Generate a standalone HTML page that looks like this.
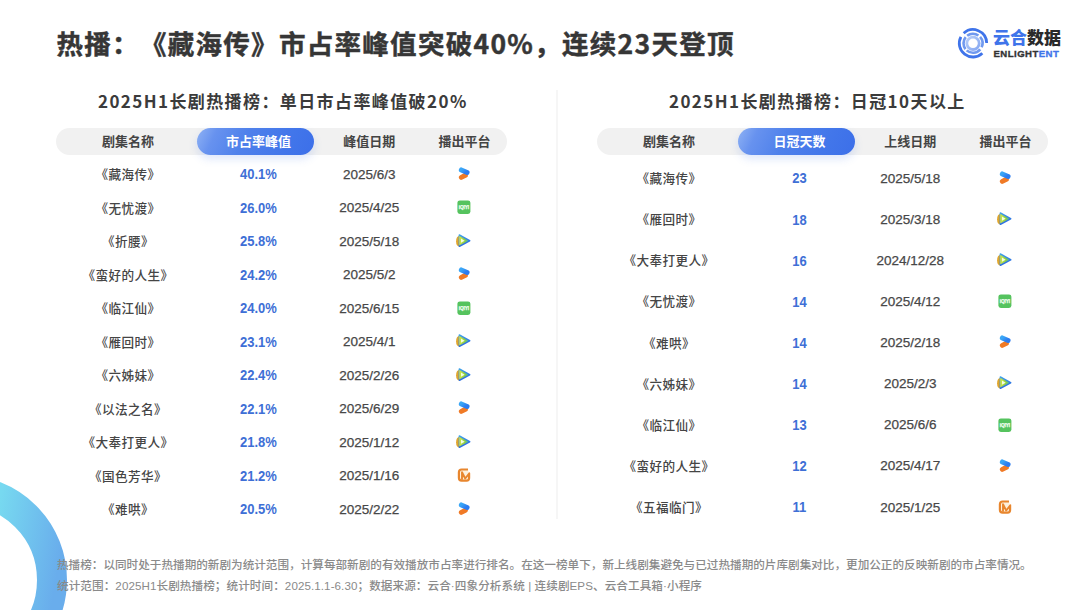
<!DOCTYPE html>
<html lang="zh-CN"><head><meta charset="utf-8"><title>热播：《藏海传》市占率峰值突破40%，连续23天登顶</title>
<style>
*{margin:0;padding:0;box-sizing:border-box}
html,body{width:1080px;height:610px;overflow:hidden;background:#fff}
body{position:relative;text-spacing-trim:space-all;font-family:"Liberation Sans","Noto Sans CJK SC",sans-serif;color:#333}
.t{position:absolute;white-space:nowrap}
#title{left:56.5px;top:22.9px;letter-spacing:1.3px;font-size:26.5px;line-height:40px;font-weight:700;color:#363636;-webkit-text-stroke:0.45px #363636;font-family:"Noto Sans CJK SC",sans-serif}
.st{position:absolute;top:87.2px;font-size:17px;letter-spacing:1.4px;line-height:28px;font-weight:700;color:#3b3b3b;white-space:nowrap;font-family:"Noto Sans CJK SC",sans-serif}
.gp{position:absolute;top:128px;width:451px;height:26.5px;border-radius:13.5px;background:#f1f1f1}
.bp{position:absolute;top:127.5px;width:117px;height:27px;border-radius:13.5px;background:linear-gradient(115deg,#8fb2f4 0%,#6792ef 16%,#4f81eb 40%,#4276ea 75%,#3c6fe9 100%);box-shadow:0 4px 8px rgba(70,120,235,0.18)}
.c{position:absolute;height:0;text-align:center;white-space:nowrap}
.c>*{}
.hd{font-size:13px;font-weight:700;color:#444;font-family:"Noto Sans CJK SC",sans-serif;line-height:0}
.hw{color:#fff}
.nm{font-size:12.6px;letter-spacing:0.4px;font-weight:500;color:#454545;font-family:"Noto Sans CJK SC",sans-serif;line-height:0}
.vl{font-size:13px;font-weight:700;color:#3e6fd6;line-height:0;transform:scaleY(1.09)}
.dt{font-size:13.5px;color:#474747;line-height:0;-webkit-text-stroke:0.25px #474747}
.icw{position:absolute;width:16px;height:16px}
.ic{display:block}
#div{position:absolute;left:556px;top:90px;width:2px;height:429px;background:#f6f6f6}
.ft{position:absolute;left:57px;font-size:11.6px;letter-spacing:0.08px;font-weight:500;color:#8a8a8a;white-space:nowrap;line-height:0;font-family:"Liberation Sans","Noto Sans CJK SC",sans-serif}
#ring{position:absolute;left:0;top:0}
</style></head><body>
<svg id="ring" width="120" height="610" viewBox="0 0 120 610"><defs><linearGradient id="rg" x1="0" y1="500" x2="68" y2="512" gradientUnits="userSpaceOnUse"><stop offset="0" stop-color="#77d9f0"/><stop offset="1" stop-color="#69adec"/></linearGradient></defs><circle cx="-38" cy="580" r="90" fill="none" stroke="url(#rg)" stroke-width="30"/></svg>
<div class="t" id="title">热播：《藏海传》市占率峰值突破40%，连续23天登顶</div>

<svg id="logoic" style="position:absolute;left:956px;top:26px" width="34" height="34" viewBox="0 0 34 34"><defs><linearGradient id="lg1" x1="0" y1="0" x2="1" y2="1"><stop offset="0" stop-color="#b8cef8"/><stop offset="1" stop-color="#86a8f2"/></linearGradient></defs><circle cx="17" cy="17.3" r="6.2" fill="none" stroke="url(#lg1)" stroke-width="2.8"/><path d="M7.66 7.28 A13.7 13.7 0 0 1 30.70 17.06" fill="none" stroke="#3f74ea" stroke-width="2.8"/><path d="M4.90 10.87 A13.7 13.7 0 0 0 26.34 27.32" fill="none" stroke="#3f74ea" stroke-width="2.8"/><path d="M9.72 11.19 A9.5 9.5 0 0 0 9.51 23.15" fill="none" stroke="#7099ef" stroke-width="2.6"/><path d="M11.15 9.81 A9.5 9.5 0 0 1 22.45 9.52" fill="none" stroke="#7099ef" stroke-width="2.6"/><path d="M24.06 10.94 A9.5 9.5 0 0 1 25.61 21.31" fill="none" stroke="#7099ef" stroke-width="2.6"/><path d="M24.28 23.41 A9.5 9.5 0 0 1 10.64 24.36" fill="none" stroke="#7099ef" stroke-width="2.6"/></svg>
<div class="t" style="left:993px;top:24px;font-size:17px;line-height:26px;font-weight:900;font-family:'Noto Sans CJK SC',sans-serif;letter-spacing:0px"><span style="color:#3f74ea">云合</span><span style="color:#2a2a2a">数据</span></div>
<div class="t" style="left:993.5px;top:47.7px;font-size:9.6px;line-height:12px;font-weight:700;font-family:'Liberation Sans',sans-serif;letter-spacing:0.45px;-webkit-text-stroke:0.35px currentColor"><span style="color:#333">ENLIGHT</span><span style="color:#3f74ea">ENT</span></div>

<div class="st" style="left:98px">2025H1长剧热播榜：单日市占率峰值破20%</div>
<div class="st" style="left:669px">2025H1长剧热播榜：日冠10天以上</div>
<div id="div"></div>
<div class="gp" style="left:56px"></div>
<div class="bp" style="left:196.5px"></div>
<div class="c hd" style="left:48.0px;top:141.2px;width:160px">剧集名称</div>
<div class="c hd hw" style="left:178.4px;top:141.2px;width:160px">市占率峰值</div>
<div class="c hd" style="left:289.2px;top:141.2px;width:160px">峰值日期</div>
<div class="c hd" style="left:384.4px;top:141.2px;width:160px">播出平台</div>
<div class="c nm" style="left:48.0px;top:174.0px;width:160px">《藏海传》</div>
<div class="c vl" style="left:178.4px;top:175.1px;width:160px">40.1%</div>
<div class="c dt" style="left:289.2px;top:174.8px;width:160px">2025/6/3</div>
<div class="icw" style="left:456.4px;top:165.9px"><svg class="ic" width="16" height="16" viewBox="0 0 16 16"><defs><linearGradient id="ykb" x1="0" y1="0" x2="1" y2="0.5"><stop offset="0" stop-color="#3aa6f6"/><stop offset="1" stop-color="#2c7cf0"/></linearGradient></defs><line x1="5.3" y1="11.4" x2="9.4" y2="9.3" stroke="#f07a26" stroke-width="4.9" stroke-linecap="round"/><line x1="5.3" y1="3.9" x2="11.1" y2="6.5" stroke="url(#ykb)" stroke-width="4.9" stroke-linecap="round"/></svg></div>
<div class="c nm" style="left:48.0px;top:207.5px;width:160px">《无忧渡》</div>
<div class="c vl" style="left:178.4px;top:208.6px;width:160px">26.0%</div>
<div class="c dt" style="left:289.2px;top:208.3px;width:160px">2025/4/25</div>
<div class="icw" style="left:456.4px;top:199.4px"><svg class="ic" width="16" height="16" viewBox="0 0 16 16"><rect x="1.4" y="1.4" width="13" height="13.6" rx="2.4" fill="#55c35e"/><text x="7.9" y="9.9" font-size="4.7" font-family="Liberation Sans, sans-serif" font-weight="700" fill="#f4fff2" stroke="#f4fff2" stroke-width="0.25" text-anchor="middle" letter-spacing="-0.1">iQIYI</text></svg></div>
<div class="c nm" style="left:48.0px;top:241.0px;width:160px">《折腰》</div>
<div class="c vl" style="left:178.4px;top:242.1px;width:160px">25.8%</div>
<div class="c dt" style="left:289.2px;top:241.8px;width:160px">2025/5/18</div>
<div class="icw" style="left:456.4px;top:232.9px"><svg class="ic" width="16" height="16" viewBox="0 0 16 16"><defs><linearGradient id="txo" x1="0" y1="0" x2="1" y2="0"><stop offset="0" stop-color="#e2a127"/><stop offset="1" stop-color="#d9b032"/></linearGradient><linearGradient id="txb" x1="0" y1="0" x2="0.3" y2="1"><stop offset="0" stop-color="#40a6ea"/><stop offset="1" stop-color="#2a68e2"/></linearGradient><linearGradient id="txg" x1="0" y1="0" x2="1" y2="0"><stop offset="0" stop-color="#d2e64a"/><stop offset="0.6" stop-color="#8fd03e"/><stop offset="1" stop-color="#4fb8a0"/></linearGradient></defs><path d="M3.8 2.7 Q0.1 3.1 0.1 8.2 Q0.1 13.3 3.8 13.7 Z" fill="url(#txo)"/><path d="M3.7 1.3 Q2.6 0.9 2.6 2.5 L2.6 12.9 Q2.6 14.5 3.8 13.9 L14 8.6 Q15.2 7.7 14 6.9 Z" fill="url(#txb)"/><path d="M3.5 3.3 L3.5 12.1 L12 7.7 Z" fill="url(#txg)" stroke="url(#txg)" stroke-width="0.5" stroke-linejoin="round"/><path d="M5 5.6 L5 9.8 L8.7 7.7 Z" fill="#f3fde2"/></svg></div>
<div class="c nm" style="left:48.0px;top:274.5px;width:160px">《蛮好的人生》</div>
<div class="c vl" style="left:178.4px;top:275.6px;width:160px">24.2%</div>
<div class="c dt" style="left:289.2px;top:275.3px;width:160px">2025/5/2</div>
<div class="icw" style="left:456.4px;top:266.4px"><svg class="ic" width="16" height="16" viewBox="0 0 16 16"><defs><linearGradient id="ykb" x1="0" y1="0" x2="1" y2="0.5"><stop offset="0" stop-color="#3aa6f6"/><stop offset="1" stop-color="#2c7cf0"/></linearGradient></defs><line x1="5.3" y1="11.4" x2="9.4" y2="9.3" stroke="#f07a26" stroke-width="4.9" stroke-linecap="round"/><line x1="5.3" y1="3.9" x2="11.1" y2="6.5" stroke="url(#ykb)" stroke-width="4.9" stroke-linecap="round"/></svg></div>
<div class="c nm" style="left:48.0px;top:308.0px;width:160px">《临江仙》</div>
<div class="c vl" style="left:178.4px;top:309.1px;width:160px">24.0%</div>
<div class="c dt" style="left:289.2px;top:308.8px;width:160px">2025/6/15</div>
<div class="icw" style="left:456.4px;top:299.9px"><svg class="ic" width="16" height="16" viewBox="0 0 16 16"><rect x="1.4" y="1.4" width="13" height="13.6" rx="2.4" fill="#55c35e"/><text x="7.9" y="9.9" font-size="4.7" font-family="Liberation Sans, sans-serif" font-weight="700" fill="#f4fff2" stroke="#f4fff2" stroke-width="0.25" text-anchor="middle" letter-spacing="-0.1">iQIYI</text></svg></div>
<div class="c nm" style="left:48.0px;top:341.5px;width:160px">《雁回时》</div>
<div class="c vl" style="left:178.4px;top:342.6px;width:160px">23.1%</div>
<div class="c dt" style="left:289.2px;top:342.3px;width:160px">2025/4/1</div>
<div class="icw" style="left:456.4px;top:333.4px"><svg class="ic" width="16" height="16" viewBox="0 0 16 16"><defs><linearGradient id="txo" x1="0" y1="0" x2="1" y2="0"><stop offset="0" stop-color="#e2a127"/><stop offset="1" stop-color="#d9b032"/></linearGradient><linearGradient id="txb" x1="0" y1="0" x2="0.3" y2="1"><stop offset="0" stop-color="#40a6ea"/><stop offset="1" stop-color="#2a68e2"/></linearGradient><linearGradient id="txg" x1="0" y1="0" x2="1" y2="0"><stop offset="0" stop-color="#d2e64a"/><stop offset="0.6" stop-color="#8fd03e"/><stop offset="1" stop-color="#4fb8a0"/></linearGradient></defs><path d="M3.8 2.7 Q0.1 3.1 0.1 8.2 Q0.1 13.3 3.8 13.7 Z" fill="url(#txo)"/><path d="M3.7 1.3 Q2.6 0.9 2.6 2.5 L2.6 12.9 Q2.6 14.5 3.8 13.9 L14 8.6 Q15.2 7.7 14 6.9 Z" fill="url(#txb)"/><path d="M3.5 3.3 L3.5 12.1 L12 7.7 Z" fill="url(#txg)" stroke="url(#txg)" stroke-width="0.5" stroke-linejoin="round"/><path d="M5 5.6 L5 9.8 L8.7 7.7 Z" fill="#f3fde2"/></svg></div>
<div class="c nm" style="left:48.0px;top:375.0px;width:160px">《六姊妹》</div>
<div class="c vl" style="left:178.4px;top:376.1px;width:160px">22.4%</div>
<div class="c dt" style="left:289.2px;top:375.8px;width:160px">2025/2/26</div>
<div class="icw" style="left:456.4px;top:366.9px"><svg class="ic" width="16" height="16" viewBox="0 0 16 16"><defs><linearGradient id="txo" x1="0" y1="0" x2="1" y2="0"><stop offset="0" stop-color="#e2a127"/><stop offset="1" stop-color="#d9b032"/></linearGradient><linearGradient id="txb" x1="0" y1="0" x2="0.3" y2="1"><stop offset="0" stop-color="#40a6ea"/><stop offset="1" stop-color="#2a68e2"/></linearGradient><linearGradient id="txg" x1="0" y1="0" x2="1" y2="0"><stop offset="0" stop-color="#d2e64a"/><stop offset="0.6" stop-color="#8fd03e"/><stop offset="1" stop-color="#4fb8a0"/></linearGradient></defs><path d="M3.8 2.7 Q0.1 3.1 0.1 8.2 Q0.1 13.3 3.8 13.7 Z" fill="url(#txo)"/><path d="M3.7 1.3 Q2.6 0.9 2.6 2.5 L2.6 12.9 Q2.6 14.5 3.8 13.9 L14 8.6 Q15.2 7.7 14 6.9 Z" fill="url(#txb)"/><path d="M3.5 3.3 L3.5 12.1 L12 7.7 Z" fill="url(#txg)" stroke="url(#txg)" stroke-width="0.5" stroke-linejoin="round"/><path d="M5 5.6 L5 9.8 L8.7 7.7 Z" fill="#f3fde2"/></svg></div>
<div class="c nm" style="left:48.0px;top:408.5px;width:160px">《以法之名》</div>
<div class="c vl" style="left:178.4px;top:409.6px;width:160px">22.1%</div>
<div class="c dt" style="left:289.2px;top:409.3px;width:160px">2025/6/29</div>
<div class="icw" style="left:456.4px;top:400.4px"><svg class="ic" width="16" height="16" viewBox="0 0 16 16"><defs><linearGradient id="ykb" x1="0" y1="0" x2="1" y2="0.5"><stop offset="0" stop-color="#3aa6f6"/><stop offset="1" stop-color="#2c7cf0"/></linearGradient></defs><line x1="5.3" y1="11.4" x2="9.4" y2="9.3" stroke="#f07a26" stroke-width="4.9" stroke-linecap="round"/><line x1="5.3" y1="3.9" x2="11.1" y2="6.5" stroke="url(#ykb)" stroke-width="4.9" stroke-linecap="round"/></svg></div>
<div class="c nm" style="left:48.0px;top:442.0px;width:160px">《大奉打更人》</div>
<div class="c vl" style="left:178.4px;top:443.1px;width:160px">21.8%</div>
<div class="c dt" style="left:289.2px;top:442.8px;width:160px">2025/1/12</div>
<div class="icw" style="left:456.4px;top:433.9px"><svg class="ic" width="16" height="16" viewBox="0 0 16 16"><defs><linearGradient id="txo" x1="0" y1="0" x2="1" y2="0"><stop offset="0" stop-color="#e2a127"/><stop offset="1" stop-color="#d9b032"/></linearGradient><linearGradient id="txb" x1="0" y1="0" x2="0.3" y2="1"><stop offset="0" stop-color="#40a6ea"/><stop offset="1" stop-color="#2a68e2"/></linearGradient><linearGradient id="txg" x1="0" y1="0" x2="1" y2="0"><stop offset="0" stop-color="#d2e64a"/><stop offset="0.6" stop-color="#8fd03e"/><stop offset="1" stop-color="#4fb8a0"/></linearGradient></defs><path d="M3.8 2.7 Q0.1 3.1 0.1 8.2 Q0.1 13.3 3.8 13.7 Z" fill="url(#txo)"/><path d="M3.7 1.3 Q2.6 0.9 2.6 2.5 L2.6 12.9 Q2.6 14.5 3.8 13.9 L14 8.6 Q15.2 7.7 14 6.9 Z" fill="url(#txb)"/><path d="M3.5 3.3 L3.5 12.1 L12 7.7 Z" fill="url(#txg)" stroke="url(#txg)" stroke-width="0.5" stroke-linejoin="round"/><path d="M5 5.6 L5 9.8 L8.7 7.7 Z" fill="#f3fde2"/></svg></div>
<div class="c nm" style="left:48.0px;top:475.5px;width:160px">《国色芳华》</div>
<div class="c vl" style="left:178.4px;top:476.6px;width:160px">21.2%</div>
<div class="c dt" style="left:289.2px;top:476.3px;width:160px">2025/1/16</div>
<div class="icw" style="left:456.4px;top:467.4px"><svg class="ic" width="16" height="16" viewBox="0 0 16 16"><path d="M12 2.5 L5.6 2.5 Q2.9 2.5 2.9 5.4 L2.9 10.8 Q2.9 13.6 5.6 13.6 L10.6 13.6 Q13.1 13.6 13.1 11 L13.1 7" fill="#fdf0dc" stroke="#e8862e" stroke-width="2.2"/><path d="M6 12 L6 5.3 L9.2 11.5 L13.3 6.3" fill="none" stroke="#e8862e" stroke-width="1.9" stroke-linejoin="round" stroke-linecap="round"/></svg></div>
<div class="c nm" style="left:48.0px;top:509.0px;width:160px">《难哄》</div>
<div class="c vl" style="left:178.4px;top:510.1px;width:160px">20.5%</div>
<div class="c dt" style="left:289.2px;top:509.8px;width:160px">2025/2/22</div>
<div class="icw" style="left:456.4px;top:500.9px"><svg class="ic" width="16" height="16" viewBox="0 0 16 16"><defs><linearGradient id="ykb" x1="0" y1="0" x2="1" y2="0.5"><stop offset="0" stop-color="#3aa6f6"/><stop offset="1" stop-color="#2c7cf0"/></linearGradient></defs><line x1="5.3" y1="11.4" x2="9.4" y2="9.3" stroke="#f07a26" stroke-width="4.9" stroke-linecap="round"/><line x1="5.3" y1="3.9" x2="11.1" y2="6.5" stroke="url(#ykb)" stroke-width="4.9" stroke-linecap="round"/></svg></div>
<div class="gp" style="left:597px"></div>
<div class="bp" style="left:737.5px"></div>
<div class="c hd" style="left:589.0px;top:141.2px;width:160px">剧集名称</div>
<div class="c hd hw" style="left:719.4px;top:141.2px;width:160px">日冠天数</div>
<div class="c hd" style="left:830.2px;top:141.2px;width:160px">上线日期</div>
<div class="c hd" style="left:925.4px;top:141.2px;width:160px">播出平台</div>
<div class="c nm" style="left:589.0px;top:178.3px;width:160px">《藏海传》</div>
<div class="c vl" style="left:719.4px;top:179.4px;width:160px">23</div>
<div class="c dt" style="left:830.2px;top:179.1px;width:160px">2025/5/18</div>
<div class="icw" style="left:997.4px;top:170.2px"><svg class="ic" width="16" height="16" viewBox="0 0 16 16"><defs><linearGradient id="ykb" x1="0" y1="0" x2="1" y2="0.5"><stop offset="0" stop-color="#3aa6f6"/><stop offset="1" stop-color="#2c7cf0"/></linearGradient></defs><line x1="5.3" y1="11.4" x2="9.4" y2="9.3" stroke="#f07a26" stroke-width="4.9" stroke-linecap="round"/><line x1="5.3" y1="3.9" x2="11.1" y2="6.5" stroke="url(#ykb)" stroke-width="4.9" stroke-linecap="round"/></svg></div>
<div class="c nm" style="left:589.0px;top:219.4px;width:160px">《雁回时》</div>
<div class="c vl" style="left:719.4px;top:220.5px;width:160px">18</div>
<div class="c dt" style="left:830.2px;top:220.2px;width:160px">2025/3/18</div>
<div class="icw" style="left:997.4px;top:211.3px"><svg class="ic" width="16" height="16" viewBox="0 0 16 16"><defs><linearGradient id="txo" x1="0" y1="0" x2="1" y2="0"><stop offset="0" stop-color="#e2a127"/><stop offset="1" stop-color="#d9b032"/></linearGradient><linearGradient id="txb" x1="0" y1="0" x2="0.3" y2="1"><stop offset="0" stop-color="#40a6ea"/><stop offset="1" stop-color="#2a68e2"/></linearGradient><linearGradient id="txg" x1="0" y1="0" x2="1" y2="0"><stop offset="0" stop-color="#d2e64a"/><stop offset="0.6" stop-color="#8fd03e"/><stop offset="1" stop-color="#4fb8a0"/></linearGradient></defs><path d="M3.8 2.7 Q0.1 3.1 0.1 8.2 Q0.1 13.3 3.8 13.7 Z" fill="url(#txo)"/><path d="M3.7 1.3 Q2.6 0.9 2.6 2.5 L2.6 12.9 Q2.6 14.5 3.8 13.9 L14 8.6 Q15.2 7.7 14 6.9 Z" fill="url(#txb)"/><path d="M3.5 3.3 L3.5 12.1 L12 7.7 Z" fill="url(#txg)" stroke="url(#txg)" stroke-width="0.5" stroke-linejoin="round"/><path d="M5 5.6 L5 9.8 L8.7 7.7 Z" fill="#f3fde2"/></svg></div>
<div class="c nm" style="left:589.0px;top:260.4px;width:160px">《大奉打更人》</div>
<div class="c vl" style="left:719.4px;top:261.5px;width:160px">16</div>
<div class="c dt" style="left:830.2px;top:261.2px;width:160px">2024/12/28</div>
<div class="icw" style="left:997.4px;top:252.3px"><svg class="ic" width="16" height="16" viewBox="0 0 16 16"><defs><linearGradient id="txo" x1="0" y1="0" x2="1" y2="0"><stop offset="0" stop-color="#e2a127"/><stop offset="1" stop-color="#d9b032"/></linearGradient><linearGradient id="txb" x1="0" y1="0" x2="0.3" y2="1"><stop offset="0" stop-color="#40a6ea"/><stop offset="1" stop-color="#2a68e2"/></linearGradient><linearGradient id="txg" x1="0" y1="0" x2="1" y2="0"><stop offset="0" stop-color="#d2e64a"/><stop offset="0.6" stop-color="#8fd03e"/><stop offset="1" stop-color="#4fb8a0"/></linearGradient></defs><path d="M3.8 2.7 Q0.1 3.1 0.1 8.2 Q0.1 13.3 3.8 13.7 Z" fill="url(#txo)"/><path d="M3.7 1.3 Q2.6 0.9 2.6 2.5 L2.6 12.9 Q2.6 14.5 3.8 13.9 L14 8.6 Q15.2 7.7 14 6.9 Z" fill="url(#txb)"/><path d="M3.5 3.3 L3.5 12.1 L12 7.7 Z" fill="url(#txg)" stroke="url(#txg)" stroke-width="0.5" stroke-linejoin="round"/><path d="M5 5.6 L5 9.8 L8.7 7.7 Z" fill="#f3fde2"/></svg></div>
<div class="c nm" style="left:589.0px;top:301.4px;width:160px">《无忧渡》</div>
<div class="c vl" style="left:719.4px;top:302.6px;width:160px">14</div>
<div class="c dt" style="left:830.2px;top:302.2px;width:160px">2025/4/12</div>
<div class="icw" style="left:997.4px;top:293.3px"><svg class="ic" width="16" height="16" viewBox="0 0 16 16"><rect x="1.4" y="1.4" width="13" height="13.6" rx="2.4" fill="#55c35e"/><text x="7.9" y="9.9" font-size="4.7" font-family="Liberation Sans, sans-serif" font-weight="700" fill="#f4fff2" stroke="#f4fff2" stroke-width="0.25" text-anchor="middle" letter-spacing="-0.1">iQIYI</text></svg></div>
<div class="c nm" style="left:589.0px;top:342.5px;width:160px">《难哄》</div>
<div class="c vl" style="left:719.4px;top:343.6px;width:160px">14</div>
<div class="c dt" style="left:830.2px;top:343.3px;width:160px">2025/2/18</div>
<div class="icw" style="left:997.4px;top:334.4px"><svg class="ic" width="16" height="16" viewBox="0 0 16 16"><defs><linearGradient id="ykb" x1="0" y1="0" x2="1" y2="0.5"><stop offset="0" stop-color="#3aa6f6"/><stop offset="1" stop-color="#2c7cf0"/></linearGradient></defs><line x1="5.3" y1="11.4" x2="9.4" y2="9.3" stroke="#f07a26" stroke-width="4.9" stroke-linecap="round"/><line x1="5.3" y1="3.9" x2="11.1" y2="6.5" stroke="url(#ykb)" stroke-width="4.9" stroke-linecap="round"/></svg></div>
<div class="c nm" style="left:589.0px;top:383.6px;width:160px">《六姊妹》</div>
<div class="c vl" style="left:719.4px;top:384.7px;width:160px">14</div>
<div class="c dt" style="left:830.2px;top:384.4px;width:160px">2025/2/3</div>
<div class="icw" style="left:997.4px;top:375.4px"><svg class="ic" width="16" height="16" viewBox="0 0 16 16"><defs><linearGradient id="txo" x1="0" y1="0" x2="1" y2="0"><stop offset="0" stop-color="#e2a127"/><stop offset="1" stop-color="#d9b032"/></linearGradient><linearGradient id="txb" x1="0" y1="0" x2="0.3" y2="1"><stop offset="0" stop-color="#40a6ea"/><stop offset="1" stop-color="#2a68e2"/></linearGradient><linearGradient id="txg" x1="0" y1="0" x2="1" y2="0"><stop offset="0" stop-color="#d2e64a"/><stop offset="0.6" stop-color="#8fd03e"/><stop offset="1" stop-color="#4fb8a0"/></linearGradient></defs><path d="M3.8 2.7 Q0.1 3.1 0.1 8.2 Q0.1 13.3 3.8 13.7 Z" fill="url(#txo)"/><path d="M3.7 1.3 Q2.6 0.9 2.6 2.5 L2.6 12.9 Q2.6 14.5 3.8 13.9 L14 8.6 Q15.2 7.7 14 6.9 Z" fill="url(#txb)"/><path d="M3.5 3.3 L3.5 12.1 L12 7.7 Z" fill="url(#txg)" stroke="url(#txg)" stroke-width="0.5" stroke-linejoin="round"/><path d="M5 5.6 L5 9.8 L8.7 7.7 Z" fill="#f3fde2"/></svg></div>
<div class="c nm" style="left:589.0px;top:424.6px;width:160px">《临江仙》</div>
<div class="c vl" style="left:719.4px;top:425.7px;width:160px">13</div>
<div class="c dt" style="left:830.2px;top:425.4px;width:160px">2025/6/6</div>
<div class="icw" style="left:997.4px;top:416.5px"><svg class="ic" width="16" height="16" viewBox="0 0 16 16"><rect x="1.4" y="1.4" width="13" height="13.6" rx="2.4" fill="#55c35e"/><text x="7.9" y="9.9" font-size="4.7" font-family="Liberation Sans, sans-serif" font-weight="700" fill="#f4fff2" stroke="#f4fff2" stroke-width="0.25" text-anchor="middle" letter-spacing="-0.1">iQIYI</text></svg></div>
<div class="c nm" style="left:589.0px;top:465.6px;width:160px">《蛮好的人生》</div>
<div class="c vl" style="left:719.4px;top:466.8px;width:160px">12</div>
<div class="c dt" style="left:830.2px;top:466.4px;width:160px">2025/4/17</div>
<div class="icw" style="left:997.4px;top:457.5px"><svg class="ic" width="16" height="16" viewBox="0 0 16 16"><defs><linearGradient id="ykb" x1="0" y1="0" x2="1" y2="0.5"><stop offset="0" stop-color="#3aa6f6"/><stop offset="1" stop-color="#2c7cf0"/></linearGradient></defs><line x1="5.3" y1="11.4" x2="9.4" y2="9.3" stroke="#f07a26" stroke-width="4.9" stroke-linecap="round"/><line x1="5.3" y1="3.9" x2="11.1" y2="6.5" stroke="url(#ykb)" stroke-width="4.9" stroke-linecap="round"/></svg></div>
<div class="c nm" style="left:589.0px;top:506.7px;width:160px">《五福临门》</div>
<div class="c vl" style="left:719.4px;top:507.8px;width:160px">11</div>
<div class="c dt" style="left:830.2px;top:507.5px;width:160px">2025/1/25</div>
<div class="icw" style="left:997.4px;top:498.6px"><svg class="ic" width="16" height="16" viewBox="0 0 16 16"><path d="M12 2.5 L5.6 2.5 Q2.9 2.5 2.9 5.4 L2.9 10.8 Q2.9 13.6 5.6 13.6 L10.6 13.6 Q13.1 13.6 13.1 11 L13.1 7" fill="#fdf0dc" stroke="#e8862e" stroke-width="2.2"/><path d="M6 12 L6 5.3 L9.2 11.5 L13.3 6.3" fill="none" stroke="#e8862e" stroke-width="1.9" stroke-linejoin="round" stroke-linecap="round"/></svg></div>
<div class="ft" style="top:565px;letter-spacing:0.01px">热播榜：以同时处于热播期的新剧为统计范围，计算每部新剧的有效播放市占率进行排名。在这一榜单下，新上线剧集避免与已过热播期的片库剧集对比，更加公正的反映新剧的市占率情况。</div>
<div class="ft" style="top:585.7px">统计范围：2025H1长剧热播榜；统计时间：2025.1.1-6.30；数据来源：云合·四象分析系统 | 连续剧EPS、云合工具箱·小程序</div>
</body></html>
